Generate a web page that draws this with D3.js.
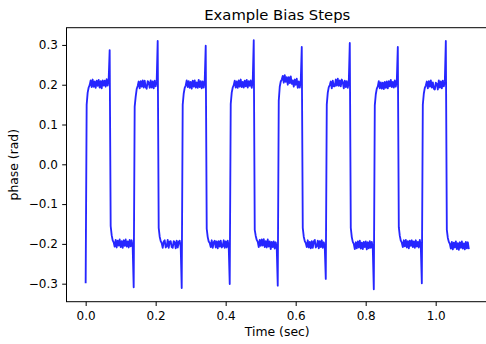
<!DOCTYPE html>
<html>
<head>
<meta charset="utf-8">
<script src="https://cdn.jsdelivr.net/npm/d3@7"></script>
<style>
  html, body { margin: 0; padding: 0; background: #fff; }
  svg { display: block; font-family: "DejaVu Sans", sans-serif; }
</style>
</head>
<body>
<svg id="chart" width="486" height="344"></svg>
<script>
// Detector phase response to a train of bias steps, sampled at a fixed interval.
const sampleInterval = 0.0028583; // seconds between samples

// One row per half-cycle of the bias square wave (24 samples each).
const phase = [
  -0.299, 0.150, 0.180, 0.193, 0.199, 0.211, 0.194, 0.213, 0.195, 0.208, 0.192, 0.210, 0.197, 0.212, 0.193, 0.209, 0.191, 0.211, 0.198, 0.210, 0.195, 0.214, 0.198, 0.213,
  0.287, -0.155, -0.178, -0.191, -0.196, -0.207, -0.190, -0.209, -0.192, -0.204, -0.189, -0.208, -0.193, -0.210, -0.191, -0.205, -0.189, -0.207, -0.194, -0.209, -0.190, -0.206, -0.191, -0.208,
  -0.309, 0.145, 0.170, 0.189, 0.197, 0.208, 0.191, 0.209, 0.195, 0.211, 0.193, 0.210, 0.194, 0.190, 0.209, 0.206, 0.192, 0.211, 0.193, 0.208, 0.191, 0.210, 0.196, 0.209,
  0.310, -0.160, -0.182, -0.193, -0.198, -0.210, -0.194, -0.191, -0.209, -0.206, -0.190, -0.210, -0.194, -0.193, -0.208, -0.210, -0.193, -0.196, -0.211, -0.192, -0.209, -0.195, -0.192, -0.208,
  -0.311, 0.150, 0.178, 0.192, 0.198, 0.211, 0.194, 0.209, 0.192, 0.207, 0.190, 0.210, 0.195, 0.211, 0.193, 0.206, 0.192, 0.212, 0.194, 0.209, 0.191, 0.208, 0.193, 0.210,
  0.298, -0.162, -0.183, -0.194, -0.198, -0.208, -0.191, -0.210, -0.196, -0.192, -0.209, -0.194, -0.211, -0.193, -0.207, -0.192, -0.209, -0.206, -0.191, -0.210, -0.194, -0.209, -0.192, -0.207,
  -0.301, 0.152, 0.180, 0.193, 0.199, 0.210, 0.193, 0.208, 0.192, 0.211, 0.195, 0.213, 0.194, 0.207, 0.193, 0.210, 0.196, 0.212, 0.193, 0.209, 0.197, 0.211, 0.192, 0.210,
  0.312, -0.165, -0.180, -0.190, -0.195, -0.208, -0.190, -0.205, -0.189, -0.204, -0.188, -0.208, -0.193, -0.209, -0.189, -0.207, -0.194, -0.213, -0.195, -0.208, -0.194, -0.212, -0.196, -0.211,
  -0.305, 0.160, 0.195, 0.208, 0.213, 0.222, 0.205, 0.224, 0.207, 0.219, 0.200, 0.219, 0.204, 0.221, 0.202, 0.211, 0.195, 0.213, 0.200, 0.215, 0.192, 0.208, 0.193, 0.210,
  0.295, -0.160, -0.182, -0.193, -0.198, -0.208, -0.191, -0.209, -0.195, -0.211, -0.193, -0.210, -0.194, -0.190, -0.209, -0.206, -0.192, -0.211, -0.193, -0.208, -0.191, -0.210, -0.196, -0.209,
  -0.288, 0.150, 0.180, 0.194, 0.199, 0.208, 0.191, 0.210, 0.196, 0.196, 0.213, 0.198, 0.215, 0.197, 0.211, 0.196, 0.213, 0.206, 0.191, 0.210, 0.194, 0.209, 0.192, 0.207,
  0.305, -0.160, -0.183, -0.195, -0.200, -0.213, -0.196, -0.211, -0.194, -0.209, -0.192, -0.212, -0.197, -0.213, -0.195, -0.208, -0.194, -0.214, -0.196, -0.211, -0.193, -0.210, -0.195, -0.212,
  -0.314, 0.148, 0.176, 0.190, 0.196, 0.209, 0.191, 0.206, 0.190, 0.205, 0.189, 0.207, 0.192, 0.208, 0.191, 0.209, 0.196, 0.212, 0.194, 0.207, 0.193, 0.211, 0.195, 0.210,
  0.295, -0.158, -0.180, -0.192, -0.197, -0.208, -0.191, -0.206, -0.190, -0.209, -0.193, -0.211, -0.192, -0.205, -0.191, -0.208, -0.194, -0.210, -0.191, -0.207, -0.195, -0.209, -0.190, -0.208,
  -0.299, 0.150, 0.178, 0.192, 0.198, 0.208, 0.191, 0.209, 0.195, 0.211, 0.193, 0.206, 0.190, 0.188, 0.205, 0.202, 0.188, 0.211, 0.193, 0.208, 0.191, 0.210, 0.196, 0.209,
  0.310, -0.165, -0.185, -0.195, -0.200, -0.212, -0.195, -0.214, -0.197, -0.209, -0.194, -0.213, -0.198, -0.215, -0.196, -0.210, -0.194, -0.212, -0.199, -0.214, -0.195, -0.211, -0.196, -0.213
];

const xTicks = [0.0, 0.2, 0.4, 0.6, 0.8, 1.0];
const xTickLabels = ["0.0", "0.2", "0.4", "0.6", "0.8", "1.0"];
const yTicks = [-0.3, -0.2, -0.1, 0.0, 0.1, 0.2, 0.3];
const yTickLabels = ["\u22120.3", "\u22120.2", "\u22120.1", "0.0", "0.1", "0.2", "0.3"];

const titleText = "Example Bias Steps";
const xLabelText = "Time (sec)";
const yLabelText = "phase (rad)";

// Layout
const plot = { left: 66.5, right: 488, top: 27.7, bottom: 301.7 };
const tickLen = 4.3, tickPad = 4.3;

const svg = d3.select("#chart");

// Samples as (time, phase) pairs
const samples = phase.map((v, i) => ({ t: i * sampleInterval, v }));

// Axis limits with 5% padding around the data extent
function padded([lo, hi]) {
  const m = (hi - lo) * 0.05;
  return [lo - m, hi + m];
}
const x = d3.scaleLinear().domain(padded(d3.extent(samples, d => d.t))).range([plot.left, plot.right]);
const y = d3.scaleLinear().domain(padded(d3.extent(samples, d => d.v))).range([plot.bottom, plot.top]);

// Clip for the data line
svg.append("defs").append("clipPath").attr("id", "plot-clip")
  .append("rect")
  .attr("x", plot.left).attr("y", plot.top)
  .attr("width", plot.right - plot.left).attr("height", plot.bottom - plot.top);

// Trace
const line = d3.line().x(d => x(d.t)).y(d => y(d.v));
svg.append("path")
  .datum(samples)
  .attr("clip-path", "url(#plot-clip)")
  .attr("d", line)
  .attr("fill", "none")
  .attr("stroke", "#0000ff")
  .attr("stroke-opacity", 0.85)
  .attr("stroke-width", 1.85)
  .attr("stroke-linejoin", "round");

// Axes frame
svg.append("rect")
  .attr("x", plot.left).attr("y", plot.top)
  .attr("width", plot.right - plot.left).attr("height", plot.bottom - plot.top)
  .attr("fill", "none").attr("stroke", "#000").attr("stroke-width", 1);

// X axis
const xAxis = d3.axisBottom(x)
  .tickValues(xTicks)
  .tickFormat((d, i) => xTickLabels[i])
  .tickSize(tickLen).tickSizeOuter(0).tickPadding(tickPad + 1);
const gx = svg.append("g").attr("transform", `translate(0,${plot.bottom})`).call(xAxis);
gx.select(".domain").remove();
gx.selectAll("text").attr("font-size", 12).attr("font-family", "DejaVu Sans").attr("fill", "#000");
gx.selectAll("line").attr("stroke", "#000");

// Y axis
const yAxis = d3.axisLeft(y)
  .tickValues(yTicks)
  .tickFormat((d, i) => yTickLabels[i])
  .tickSize(tickLen).tickSizeOuter(0).tickPadding(tickPad);
const gy = svg.append("g").attr("transform", `translate(${plot.left},0)`).call(yAxis);
gy.select(".domain").remove();
gy.selectAll("text").attr("font-size", 12).attr("font-family", "DejaVu Sans").attr("fill", "#000");
gy.selectAll("line").attr("stroke", "#000");

// Title and axis labels
const cx = (plot.left + plot.right) / 2;
const cy = (plot.top + plot.bottom) / 2;
svg.append("text")
  .attr("x", cx).attr("y", 20)
  .attr("text-anchor", "middle")
  .attr("font-size", 14.8)
  .text(titleText);
svg.append("text")
  .attr("x", cx).attr("y", 336)
  .attr("text-anchor", "middle")
  .attr("font-size", 12.4)
  .text(xLabelText);
svg.append("text")
  .attr("transform", `translate(18,${cy}) rotate(-90)`)
  .attr("text-anchor", "middle")
  .attr("font-size", 12.4)
  .text(yLabelText);
</script>
</body>
</html>
